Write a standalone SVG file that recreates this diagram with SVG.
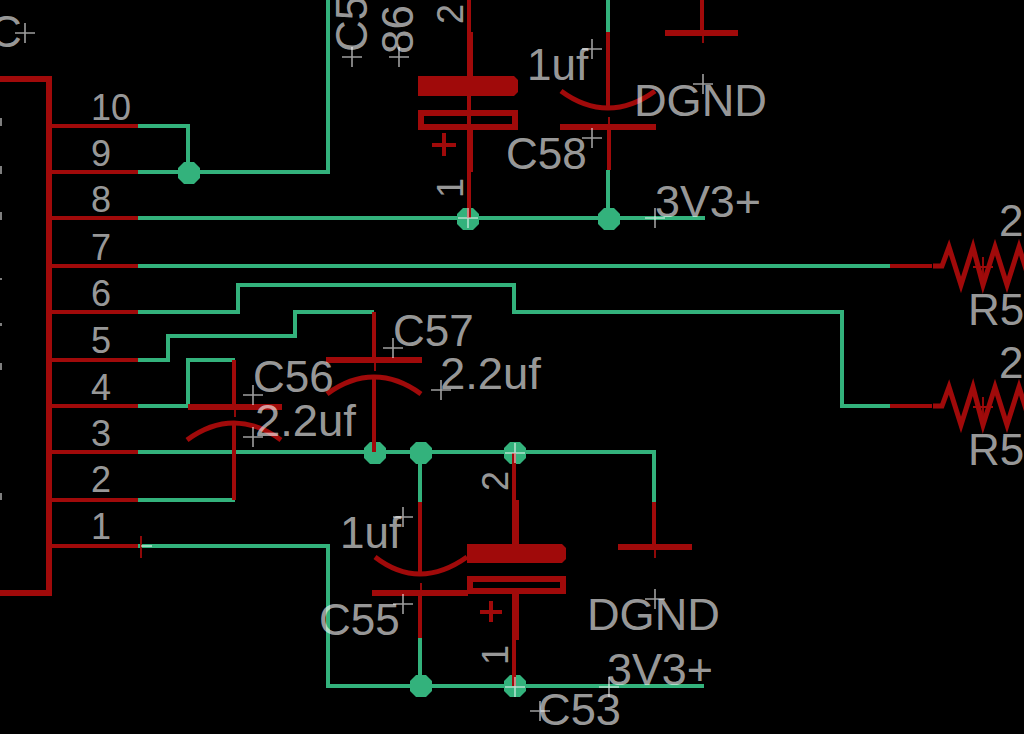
<svg xmlns="http://www.w3.org/2000/svg" xmlns:xlink="http://www.w3.org/1999/xlink" width="1024" height="734" viewBox="0 0 1024 734">
<style>
.w{fill:none;stroke:#33b27c;stroke-width:4}
.r{fill:none;stroke:#a00a0a;stroke-width:4}
.p{fill:none;stroke:#a00a0a;stroke-width:6}
.a{fill:none;stroke:#a00a0a;stroke-width:5}
.j{fill:#33b27c}
.x{fill:none;stroke:#fff;stroke-opacity:.62;stroke-width:1.6}
.xr{fill:none;stroke:#a00a0a;stroke-width:1.8}
text{font-family:"Liberation Sans",Arial,sans-serif;fill:#fff;fill-opacity:.62}
.b{font-size:44px}
.s{font-size:36px}
</style>
<defs>
<path id="o" d="M-10 0H10M0-10V10"/>
<path id="zig" d="M-58 0H-49L-42-19L-30 19L-18-19L-8 19L4-19L16 19L28-19L40 19"/>
<polygon id="dot" points="-5,-11 5,-11 11,-5 11,5 5,11 -5,11 -11,5 -11,-5"/>
</defs>
<rect width="1024" height="734" fill="#000"/>
<g id="connectors">
<path class="w" d="M138 126H188V172M138 172H328V0"/>
<path class="w" d="M138 218H705"/>
<path class="w" d="M138 266H890"/>
<path class="w" d="M138 312H238V285H514V312H842V406H890"/>
<path class="w" d="M138 360H168V336H295V312H374"/>
<path class="w" d="M138 406H188V360H235"/>
<path class="w" d="M138 500H235"/>
<path class="w" d="M138 452H654V502"/>
<path class="w" d="M138 546H328V686H704"/>
<path class="w" d="M608 0V32M608 170V218"/>
<path class="w" d="M420 453V502M420 638V686"/>
</g>
<g id="junctions">
<use href="#dot" class="j" x="189" y="173"/>
<use href="#dot" class="j" x="468" y="219"/>
<use href="#dot" class="j" x="609" y="219"/>
<use href="#dot" class="j" x="375" y="453"/>
<use href="#dot" class="j" x="421" y="453"/>
<use href="#dot" class="j" x="515" y="453"/>
<use href="#dot" class="j" x="421" y="686"/>
<use href="#dot" class="j" x="515" y="686"/>
</g>
<g id="header">
<path class="p" d="M0 79H49V593H0"/>
<path class="r" d="M50 126H138M50 172H138M50 218H138M50 266H138M50 312H138M50 360H138M50 406H138M50 452H138M50 500H138M50 546H138"/>
<path class="xr" d="M141 536V558"/>
<path class="x" d="M141 546H152"/>
<text class="s" x="91" y="120">10</text>
<text class="s" x="91" y="166">9</text>
<text class="s" x="91" y="212">8</text>
<text class="s" x="91" y="260">7</text>
<text class="s" x="91" y="306">6</text>
<text class="s" x="91" y="353">5</text>
<text class="s" x="91" y="400">4</text>
<text class="s" x="91" y="446">3</text>
<text class="s" x="91" y="492">2</text>
<text class="s" x="91" y="539">1</text>
<path class="x" stroke-width="2" d="M1 118V126M1 166V174M1 212V220M1 278V280M1 323V326M1 363V370M1 493V500"/>
</g>
<g id="C58">
<path class="r" d="M469 0V218"/>
<path class="p" d="M470 32V76M470 129V172"/>
<path d="M418 76H514L518 80V92L514 96H418Z" fill="#a00a0a"/>
<path class="p" d="M421 113H515V127H421Z"/>
<path class="r" stroke-width="5" d="M432 145H456M444 133V156"/>
<use href="#o" class="x" x="468" y="218"/>
<text class="s" transform="translate(463 24) rotate(-90)">2</text>
<text class="s" transform="translate(463 198) rotate(-90)">1</text>
</g>
<g id="C58b">
<path class="r" d="M608 32V108M609 127V170"/>
<path class="a" d="M561 91Q584 108 608 108T655 91"/>
<path class="p" d="M560 127H656"/>
<use href="#o" class="xr" x="609" y="127"/>
<use href="#o" class="x" x="592" y="49"/>
<use href="#o" class="x" x="592" y="138"/>
<text class="b" x="527" y="80">1uf</text>
<text class="b" x="506" y="169">C58</text>
</g>
<g id="GND1">
<path class="r" d="M702 0V33"/>
<path class="p" d="M665 33H738"/>
<use href="#o" class="xr" x="703" y="33"/>
<use href="#o" class="x" x="703" y="84"/>
<text class="b" x="634" y="116" textLength="133" lengthAdjust="spacingAndGlyphs">DGND</text>
</g>
<g id="P3V3a">
<use href="#o" class="x" x="655" y="218"/>
<text class="b" x="655" y="217" textLength="106" lengthAdjust="spacingAndGlyphs">3V3+</text>
</g>
<g id="C-top">
<use href="#o" class="x" x="25" y="33"/>
<use href="#o" class="x" x="352" y="57"/>
<use href="#o" class="x" x="399" y="57"/>
<text class="b" x="-10" y="47">C</text>
<text class="b" transform="translate(367 52) rotate(-90)">C5</text>
<text class="b" transform="translate(413 54) rotate(-90)">86</text>
</g>
<g id="R1">
<path class="r" d="M890 266H932"/>
<use href="#zig" class="a" x="991" y="266"/>
<use href="#o" class="xr" x="983" y="267"/>
<text class="b" x="999" y="236">2</text>
<text class="b" x="968" y="325">R5</text>
</g>
<g id="R2">
<path class="r" d="M890 406H932"/>
<use href="#zig" class="a" x="991" y="406"/>
<use href="#o" class="xr" x="983" y="407"/>
<text class="b" x="999" y="378">2</text>
<text class="b" x="968" y="465">R5</text>
</g>
<g id="C57">
<path class="r" d="M374 312V360M374 377V452"/>
<path class="p" d="M326 360H422"/>
<path class="a" d="M327 394Q350 377 374 377T421 394"/>
<use href="#o" class="xr" x="375" y="361"/>
<use href="#o" class="x" x="393" y="348"/>
<use href="#o" class="x" x="441" y="390"/>
<text class="b" x="393" y="346">C57</text>
<text class="b" x="440" y="389" textLength="101" lengthAdjust="spacingAndGlyphs">2.2uf</text>
</g>
<g id="C56">
<path class="r" d="M234 360V407M234 423V500"/>
<path class="p" d="M188 407H282"/>
<path class="a" d="M187 440Q210 423 234 423T281 440"/>
<use href="#o" class="xr" x="235" y="407"/>
<use href="#o" class="x" x="253" y="395"/>
<use href="#o" class="x" x="253" y="437"/>
<text class="b" x="253" y="392">C56</text>
<text class="b" x="255" y="436" textLength="101" lengthAdjust="spacingAndGlyphs">2.2uf</text>
</g>
<g id="C55">
<path class="r" d="M420 502V574M420 593V638"/>
<path class="a" d="M375 557Q397 574 420 574T467 557"/>
<path class="p" d="M372 593H468"/>
<use href="#o" class="xr" x="421" y="593"/>
<use href="#o" class="x" x="403" y="517"/>
<use href="#o" class="x" x="403" y="604"/>
<text class="b" x="340" y="548">1uf</text>
<text class="b" x="319" y="635">C55</text>
</g>
<g id="C53">
<path class="r" d="M514 453V544"/>
<path class="r" d="M514 594V686"/>
<path class="p" d="M516 500V544M516 594V640"/>
<path d="M467 544H562L566 548V559L562 563H467Z" fill="#a00a0a"/>
<path class="p" d="M470 579H563V591H470Z"/>
<path class="r" stroke-width="5" d="M480 612H502M491 601V622"/>
<use href="#o" class="x" x="515" y="453"/>
<use href="#o" class="x" x="515" y="687"/>
<use href="#o" class="x" x="540" y="711"/>
<text class="s" transform="translate(508 491) rotate(-90)">2</text>
<text class="s" transform="translate(508 665) rotate(-90)">1</text>
<text class="b" x="538" y="725" textLength="83" lengthAdjust="spacingAndGlyphs">C53</text>
</g>
<g id="GND2">
<path class="r" d="M654 502V547"/>
<path class="p" d="M618 547H692"/>
<use href="#o" class="xr" x="655" y="548"/>
<use href="#o" class="x" x="655" y="599"/>
<text class="b" x="587" y="630" textLength="133" lengthAdjust="spacingAndGlyphs">DGND</text>
</g>
<g id="P3V3b">
<use href="#o" class="x" x="609" y="687"/>
<text class="b" x="607" y="685" textLength="106" lengthAdjust="spacingAndGlyphs">3V3+</text>
</g>
</svg>
